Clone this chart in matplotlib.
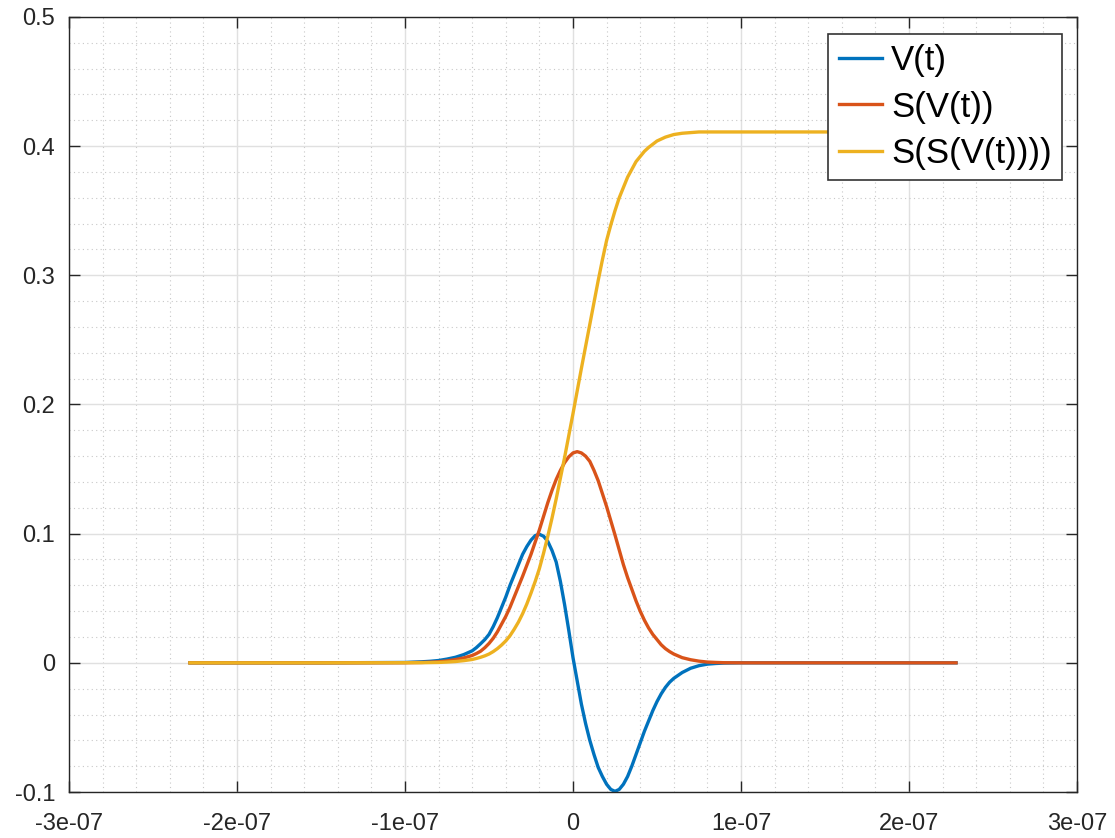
import numpy as np
import matplotlib
matplotlib.use('Agg')
import matplotlib.pyplot as plt
from matplotlib.ticker import FixedLocator, MultipleLocator

plt.rcParams['font.family'] = ['Liberation Sans', 'DejaVu Sans']

# time axis in units of 1e-8 s
t_1e8 = [-22.8, -15, -10, -9, -8.5, -8, -7.5, -7, -6.5,
         -6, -5.75, -5.5, -5.25, -5, -4.75, -4.5, -4.25, -4, -3.75, -3.5,
         -3.25, -3, -2.75, -2.5, -2.25, -2, -1.75, -1.5, -1.25, -1, -0.75,
         -0.5, -0.25, 0, 0.25, 0.5, 0.75, 1, 1.25, 1.5, 1.75, 2, 2.25, 2.5,
         2.75, 3, 3.25, 3.5, 3.75, 4, 4.25, 4.5, 4.75, 5, 5.25, 5.5, 5.75, 6,
         6.5, 7, 7.5, 8, 8.5, 9, 10, 15, 22.8]

v = [0, 0, 0.0003, 0.0008, 0.0012, 0.0018, 0.0029, 0.0043, 0.0064,
     0.0093, 0.0118, 0.0148, 0.018, 0.022, 0.028, 0.035, 0.043, 0.051, 0.060,
     0.068, 0.076, 0.084, 0.090, 0.095, 0.0985, 0.0995, 0.098, 0.094, 0.087,
     0.078, 0.063, 0.045, 0.025, 0.004, -0.014, -0.032, -0.047, -0.060,
     -0.071, -0.081, -0.088, -0.094, -0.098, -0.0995, -0.098, -0.094, -0.088,
     -0.080, -0.071, -0.062, -0.053, -0.045, -0.037, -0.030, -0.024, -0.019,
     -0.015, -0.012,
     -0.0075, -0.0042, -0.0022, -0.001, -0.0005, -0.0002, 0, 0, 0]

sv = [0, 0, 0.0001, 0.0003, 0.0005, 0.0008, 0.0015, 0.0025, 0.0038,
      0.0057, 0.0072, 0.009, 0.0117, 0.015, 0.019, 0.024, 0.030, 0.036, 0.043,
      0.051, 0.059, 0.067, 0.0755, 0.084, 0.0935, 0.103, 0.1135, 0.124,
      0.1335, 0.142, 0.149, 0.155, 0.1595, 0.1625, 0.1635, 0.1625, 0.160,
      0.156, 0.149, 0.141, 0.131, 0.121, 0.110, 0.099, 0.0875, 0.076, 0.066,
      0.057, 0.048, 0.040, 0.033, 0.027, 0.022, 0.018, 0.014, 0.011, 0.0087,
      0.0068,
      0.004, 0.0024, 0.0013, 0.0006, 0.0003, 0.0001, 0, 0, 0]

ssv = [0, 0, 0.0001, 0.0001, 0.0002, 0.0003, 0.0006, 0.001, 0.0017,
       0.0026, 0.0034, 0.0043, 0.0054, 0.0068, 0.0087, 0.011, 0.0138, 0.017,
       0.021, 0.026, 0.0315, 0.038, 0.0455, 0.054, 0.063, 0.073, 0.085, 0.098,
       0.112, 0.127, 0.143, 0.159, 0.176, 0.193, 0.2105, 0.228, 0.245, 0.262,
       0.279, 0.296, 0.312, 0.327, 0.339, 0.350, 0.360, 0.368, 0.376, 0.382,
       0.388, 0.392, 0.396, 0.399, 0.4015, 0.404, 0.4055, 0.407, 0.408, 0.409,
       0.410, 0.4105, 0.411, 0.411, 0.411, 0.411, 0.411, 0.411, 0.411]

labels = ['V(t)', 'S(V(t))', 'S(S(V(t))))']
xticks = [-3e-7, -2e-7, -1e-7, 0, 1e-7, 2e-7, 3e-7]
xticklabels = ['-3e-07', '-2e-07', '-1e-07', '0', '1e-07', '2e-07', '3e-07']
yticks = [-0.1, 0, 0.1, 0.2, 0.3, 0.4, 0.5]
yticklabels = ['-0.1', '0', '0.1', '0.2', '0.3', '0.4', '0.5']

t = np.array(t_1e8) * 1e-8

fig = plt.figure(figsize=(11.15, 8.38), dpi=100)
ax = fig.add_axes([69 / 1115, 1 - 792 / 838, 1008 / 1115, 775 / 838])

colors = ['#0072BD', '#D95319', '#EDB120']
for y, lab, c in zip([v, sv, ssv], labels, colors):
    ax.plot(t, y, color=c, lw=2.4, label=lab, solid_joinstyle='round')

ax.set_xlim(-3e-7, 3e-7)
ax.set_ylim(-0.1, 0.5)
ax.xaxis.set_major_locator(FixedLocator(xticks))
ax.set_xticklabels(xticklabels)
ax.yaxis.set_major_locator(FixedLocator(yticks))
ax.set_yticklabels(yticklabels)
ax.xaxis.set_minor_locator(MultipleLocator(2e-8))
ax.yaxis.set_minor_locator(MultipleLocator(0.02))

axcol = '#262626'
ax.tick_params(which='major', direction='in', length=8, width=1,
               top=True, right=True, color=axcol, labelcolor=axcol,
               labelsize=17)
ax.tick_params(axis='x', pad=15)
ax.tick_params(axis='y', pad=10)
ax.tick_params(which='minor', length=0)
for s in ax.spines.values():
    s.set_color(axcol)
    s.set_linewidth(1)

ax.grid(which='major', color='#e0e0e0', lw=1, ls='-')
ax.grid(which='minor', color='#c8c8c8', lw=0.8, ls=(0, (1, 3)))
ax.set_axisbelow(True)

leg = ax.legend(loc='upper right', bbox_to_anchor=(1062 / 1115, 1 - 34 / 838),
                bbox_transform=fig.transFigure, borderaxespad=0,
                fontsize=25, fancybox=False, framealpha=1,
                edgecolor='#333333', handlelength=1.25, handletextpad=0.25,
                labelspacing=0.38, borderpad=0.3)
leg.get_frame().set_linewidth(1.2)
for line in leg.get_lines():
    line.set_linewidth(2.4)
for txt in leg.get_texts():
    txt.set_color('#000000')

fig.savefig('out.png', dpi=100)
